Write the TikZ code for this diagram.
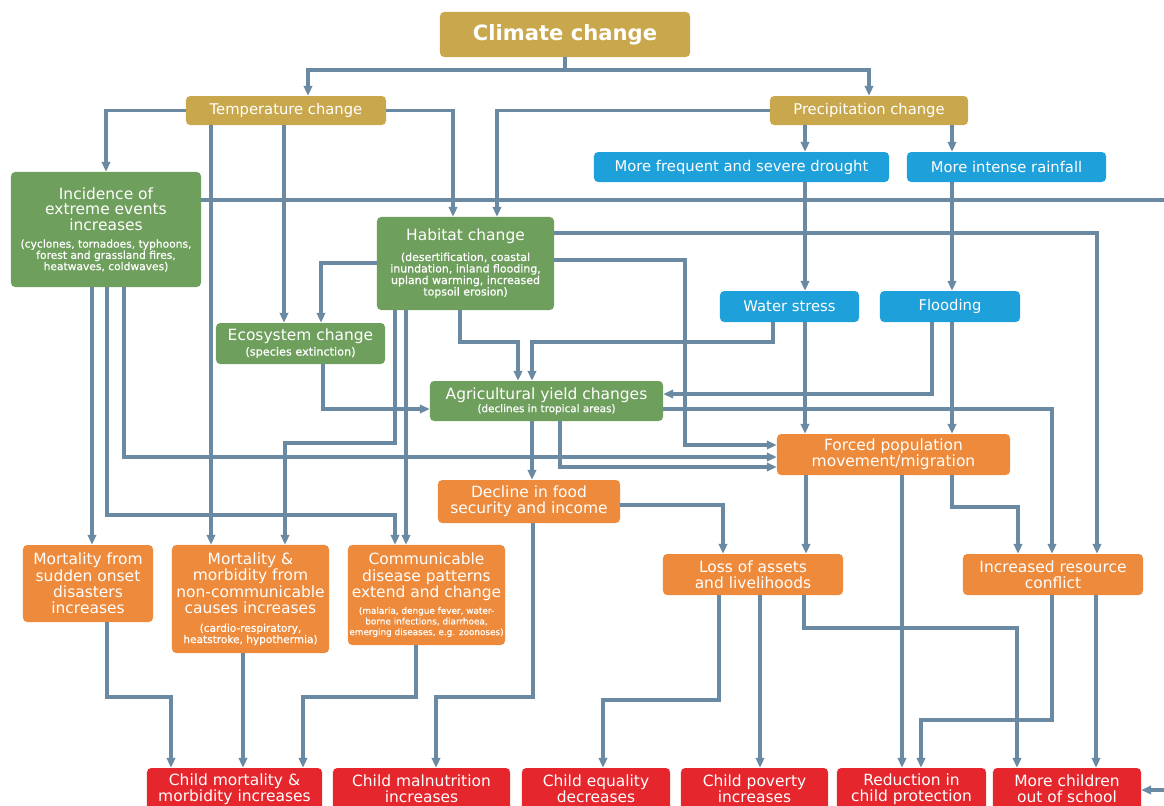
\documentclass[tikz,border=0pt]{standalone}
\usepackage{fontspec}
\setmainfont{DejaVu Sans}
\newfontfamily\petit[FakeBold=0.6]{DejaVu Sans}
\usepackage{tikz}
\usepackage{xcolor}
\usetikzlibrary{arrows.meta}
\definecolor{ccgold}{HTML}{C9A84D}
\definecolor{ccgreen}{HTML}{6F9F5D}
\definecolor{ccblue}{HTML}{1EA0DA}
\definecolor{ccorange}{HTML}{EE8A3B}
\definecolor{ccred}{HTML}{E5262D}
\definecolor{cclink}{HTML}{6A8AA4}
\newcommand{\sous}[4][2pt]{\par\vspace{#1}{\petit\fontsize{#2}{#3}\selectfont #4\par}}

\begin{document}
\begin{tikzpicture}[x=0.025cm,y=-0.025cm,
  box/.style={rounded corners=3pt,text=white,align=flush center,inner xsep=0pt,inner ysep=1pt},
  cause/.style={box,fill=ccgold,font=\fontsize{10.5}{11.5}\selectfont},
  eau/.style={box,fill=ccblue,font=\fontsize{10.5}{11.5}\selectfont},
  milieu/.style={box,fill=ccgreen,font=\fontsize{11}{11.2}\selectfont},
  effet/.style={box,fill=ccorange,font=\fontsize{11}{11.6}\selectfont},
  enfant/.style={box,fill=ccred,font=\fontsize{11}{11.4}\selectfont,minimum height=1.05cm},
  fleche/.style={cclink,line width=2.2pt,-{Triangle[length=7pt,width=6pt]}},
  trait/.style={cclink,line width=2.2pt}]
  \useasboundingbox (0,0) rectangle (1164,805);

  % causes
  \node[cause,font=\fontsize{15}{16}\selectfont\bfseries,text width=6.25cm,minimum height=1.125cm] (climat) at (565,34.5) {Climate change};
  \node[cause,text width=5cm,minimum height=0.725cm] (temp) at (286,110.5) {Temperature change};
  \node[cause,text width=4.95cm,minimum height=0.725cm] (precip) at (869,110.5) {Precipitation change};
  \node[eau,text width=7.375cm,minimum height=0.75cm] (secheresse) at (741.5,167) {More frequent and severe drought};
  \node[eau,text width=4.975cm,minimum height=0.75cm] (pluie) at (1006.5,167) {More intense rainfall};
  \node[eau,text width=3.475cm,minimum height=0.775cm] (stress) at (789.5,306.5) {Water stress};
  \node[eau,text width=3.5cm,minimum height=0.775cm] (inond) at (950,306.5) {Flooding};

  % milieu
  \node[milieu,text width=4.75cm,minimum height=2.875cm] (extremes) at (106,229.5)
    {Incidence of\\extreme events\\increases\sous[4pt]{7.6}{8}{(cyclones, tornadoes, typhoons,\\forest and grassland fires,\\heatwaves, coldwaves)}};
  \node[milieu,text width=4.425cm,minimum height=2.325cm] (habitat) at (465.5,263.5)
    {Habitat change\sous[5pt]{7.8}{8.2}{(desertification, coastal\\inundation, inland flooding,\\upland warming, increased\\topsoil erosion)}};
  \node[milieu,text width=4.225cm,minimum height=1.025cm] (ecosys) at (300.5,343.5)
    {Ecosystem change\sous{8}{8.5}{(species extinction)}};
  \node[milieu,text width=5.825cm,minimum height=1cm] (agri) at (546.5,401)
    {Agricultural yield changes\sous[1pt]{7.4}{8}{(declines in tropical areas)}};

  % effets
  \node[effet,text width=5.825cm,minimum height=1.025cm] (forced) at (893.5,454.5) {Forced population\\movement/migration};
  \node[effet,text width=4.55cm,minimum height=1.075cm] (food) at (529,501.5) {Decline in food\\security and income};
  \node[effet,text width=3.25cm,minimum height=1.925cm] (msudden) at (88,583.5) {Mortality from\\sudden onset\\disasters\\increases};
  \node[effet,text width=3.925cm,minimum height=2.7cm] (mnoncom) at (250.5,599)
    {Mortality \&\\morbidity from\\non-communicable\\causes increases\sous[5pt]{7.5}{8}{(cardio-respiratory,\\heatstroke, hypothermia)}};
  \node[effet,text width=3.925cm,minimum height=2.5cm] (commun) at (426.5,595)
    {Communicable\\disease patterns\\extend and change\sous[4pt]{6.3}{7.6}{(malaria, dengue fever, water-\\borne infections, diarrhoea,\\emerging diseases, e.g. zoonoses)}};
  \node[effet,text width=4.5cm,minimum height=1.025cm] (assets) at (753,574.5) {Loss of assets\\and livelihoods};
  \node[effet,text width=4.5cm,minimum height=1.025cm] (conflict) at (1053,574.5) {Increased resource\\conflict};

  % enfants
  \foreach \n/\x/\w/\t in {r1/234.5/4.375/{Child mortality \&\\morbidity increases},
      r2/421.5/4.425/{Child malnutrition\\increases}, r3/596/3.7/{Child equality\\decreases},
      r4/754.5/3.675/{Child poverty\\increases}, r5/911.5/3.725/{Reduction in\\child protection},
      r6/1067/3.7/{More children\\out of school}}
    \node[enfant,text width=\w cm] (\n) at (\x,789) {\t};

  % fleches droites
  \foreach \a/\b/\x in {temp/mnoncom/211, temp/ecosys/284, precip/secheresse/805, precip/pluie/952,
      secheresse/stress/805, pluie/inond/952, extremes/msudden/92, habitat/commun/406,
      stress/forced/805, inond/forced/952, agri/food/532, forced/assets/806, forced/r5/902,
      mnoncom/r1/243, assets/r4/760, conflict/r6/1096}
    \draw[fleche] (\a.south -| \x,0) -- (\b.north -| \x,0);

  % climat
  \coordinate (bus) at (climat.south |- 0,70);
  \draw[trait] (climat.south) -- (bus);
  \draw[fleche] (bus) -| (temp.north -| 308,0);
  \draw[fleche] (bus) -| (precip.north);
  \draw[fleche] (temp.west) -| (extremes.north);
  \draw[fleche] (temp.east) -| (habitat.north -| 453,0);
  \draw[fleche] (precip.west) -| (habitat.north -| 497,0);

  % extremes
  \coordinate (bordhaut) at (1164,200);
  \draw[trait] (extremes.east |- bordhaut) -- (bordhaut);
  \draw[fleche] (extremes.south -| 107,0) |- (395,515) -- (commun.north -| 395,0);
  \draw[fleche] (extremes.south -| 124,0) |- (forced.west |- 0,457);

  % habitat
  \draw[fleche] (habitat.east |- 0,233) -| (conflict.north -| 1097,0);
  \draw[fleche] (habitat.east |- 0,260) -| (685,445) -- (forced.west |- 0,445);
  \draw[fleche] (habitat.west |- 0,263) -| (ecosys.north -| 321,0);
  \draw[fleche] (habitat.south -| 395,0) |- (285,443) -- (mnoncom.north -| 285,0);
  \draw[fleche] (habitat.south -| 460,0) |- (518,342) -- (agri.north -| 518,0);

  % ecosysteme, eau
  \draw[fleche] (ecosys.south -| 323,0) |- (agri.west |- 0,409);
  \draw[fleche] (stress.south -| 773,0) |- (532,342) -- (agri.north -| 532,0);
  \draw[fleche] (inond.south -| 932,0) |- (agri.east |- 0,394);

  % rendements, alimentation
  \draw[fleche] (agri.south -| 560,0) |- (forced.west |- 0,467);
  \draw[fleche] (agri.east |- 0,409) -| (conflict.north -| 1052,0);
  \draw[fleche] (food.east |- 0,505) -| (assets.north -| 723,0);
  \draw[fleche] (food.south -| 533,0) |- (436,697) -- (r2.north -| 436,0);

  % migration, pertes, conflits
  \draw[fleche] (forced.south -| 952,0) |- (1018,507) -- (conflict.north -| 1018,0);
  \draw[fleche] (assets.south -| 719,0) |- (603,700) -- (r3.north -| 603,0);
  \draw[fleche] (assets.south -| 804,0) |- (1017,628) -- (r6.north -| 1017,0);
  \draw[fleche] (conflict.south -| 1052,0) |- (921,720) -- (r5.north -| 921,0);

  % mortalite
  \draw[fleche] (msudden.south -| 107,0) |- (171,697) -- (r1.north -| 171,0);
  \draw[fleche] (commun.south -| 416,0) |- (303,697) -- (r1.north -| 303,0);

  % bord droit
  \coordinate (bordbas) at (1164,790);
  \draw[fleche] (bordbas) -- (r6.east |- bordbas);
\end{tikzpicture}
\end{document}
